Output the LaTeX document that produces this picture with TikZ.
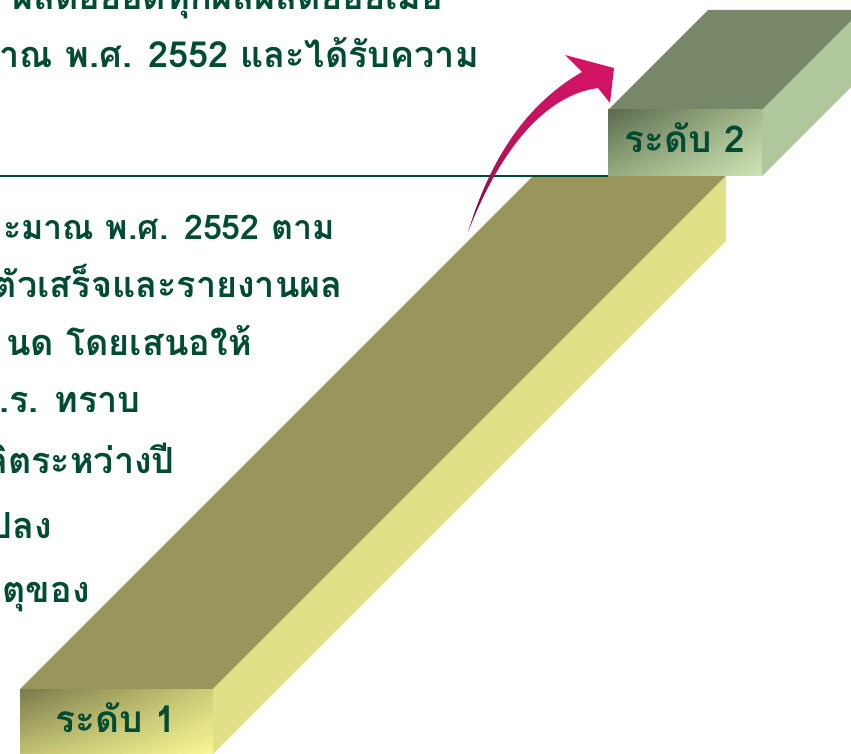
\documentclass[tikz,border=0pt]{standalone}
\usepackage{fontspec}
\usetikzlibrary{shadings}
\newfontfamily\thaifont[Script=Thai]{Loma}
\definecolor{txtgreen}{RGB}{0,76,50}
\definecolor{oliveTop}{RGB}{152,150,90}
\definecolor{oliveSide}{RGB}{224,224,136}
\definecolor{oliveUL}{RGB}{122,122,76}
\definecolor{oliveUR}{RGB}{205,205,120}
\definecolor{oliveLL}{RGB}{200,200,118}
\definecolor{oliveLR}{RGB}{252,252,152}
\definecolor{sageTop}{RGB}{121,135,105}
\definecolor{sageSide}{RGB}{176,198,156}
\definecolor{sageUL}{RGB}{92,106,78}
\definecolor{sageUR}{RGB}{165,185,140}
\definecolor{sageLL}{RGB}{150,172,128}
\definecolor{sageLR}{RGB}{205,228,180}
\definecolor{arrowTop}{RGB}{214,20,102}
\definecolor{arrowMid}{RGB}{190,20,92}
\definecolor{arrowBot}{RGB}{115,14,62}
\begin{document}
\begin{tikzpicture}[x=1pt,y=-1pt,
  bodytext/.style={anchor=base east,inner sep=0pt,font=\thaifont\bfseries\fontsize{36}{41}\selectfont,text=txtgreen},
  leveltext/.style={anchor=base,inner sep=0pt,font=\thaifont\bfseries\fontsize{37}{42}\selectfont,text=txtgreen}]
\useasboundingbox (0,0) rectangle (851,754);
\clip (0,0) rectangle (851,754);
% text lines
\node[bodytext] (l0) at (443,10) {ผลต่อยอดทุกผลผลิตย่อยเมื่อ};
\node[bodytext] (l1) at (479,68) {าณ พ.ศ. 2552 และได้รับความ};
\node[bodytext,font=\thaifont\bfseries\fontsize{34}{39}\selectfont] (l2) at (335,240) {ะมาณ พ.ศ. 2552 ตาม};
\node[bodytext] (l3) at (343,297) {ตัวเสร็จและรายงานผล};
\node[bodytext] (l4) at (252,355) {นด โดยเสนอให้};
\node[bodytext] (l5) at (141,412) {พ.ร. ทราบ};
\node[bodytext] (l6) at (175,473) {ลิตระหว่างปี};
\node[bodytext] (l7) at (52,538) {ปลง};
\node[bodytext] (l8) at (90,602) {ตุของ};
% level 1 block
\fill[oliveTop] (20,689) -- (213,689) -- (726,176) -- (533,176) -- cycle;
\fill[oliveSide] (213,689) -- (726,176) -- (726,241) -- (213,754) -- cycle;
\shade[upper left=oliveUL,upper right=oliveUR,lower left=oliveLL,lower right=oliveLR]
  (20,689) rectangle (213,760);
% divider line
\coordinate (lineA) at (0,176);
\coordinate (lineB) at (608,176);
\draw[txtgreen,line width=2pt] (lineA) -- (lineB);
% level 2 block
\fill[sageTop] (608,110) -- (762,110) -- (862,10) -- (708,10) -- cycle;
\fill[sageSide] (762,110) -- (862,10) -- (862,76) -- (762,176) -- cycle;
\shade[upper left=sageUL,upper right=sageUR,lower left=sageLL,lower right=sageLR]
  (608,110) rectangle (762,176);
\node[leveltext] (lv1) at (116,732) {ระดับ 1};
\node[leveltext] (lv2) at (685,153) {ระดับ 2};
% curved arrow
\shade[top color=arrowTop,bottom color=arrowBot,middle color=arrowMid]
  (468,232) .. controls (490,160) and (525,105) .. (582,72)
  -- (565,55) -- (614,68) -- (610,103) -- (598,88)
  .. controls (545,95) and (500,150) .. (468,232) -- cycle;
\end{tikzpicture}
\end{document}
